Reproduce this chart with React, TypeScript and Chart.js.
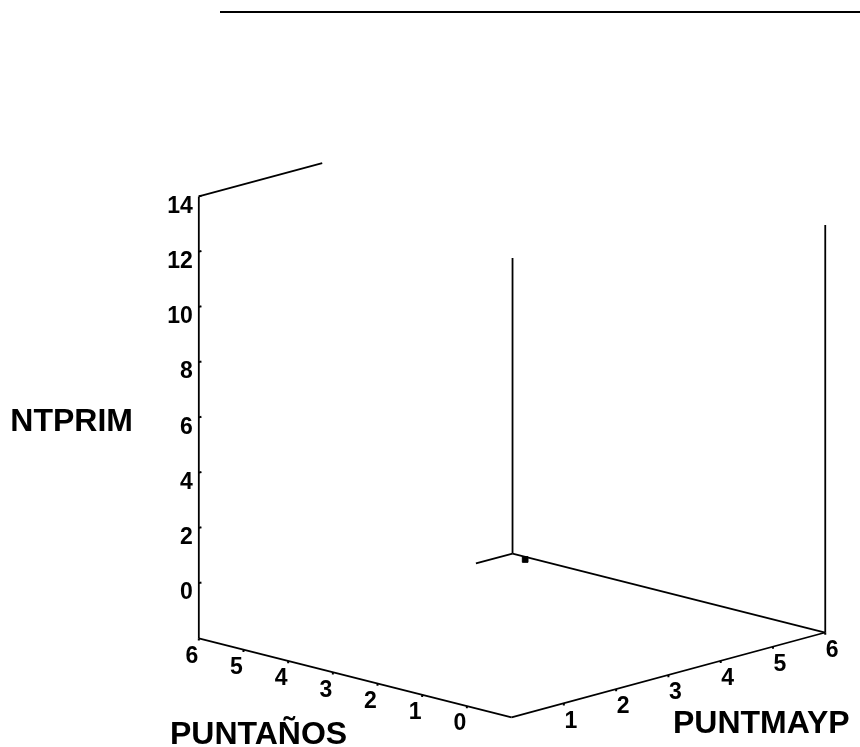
import React, { useEffect, useRef } from "react";
import { Chart, registerables } from "chart.js";

Chart.register(...registerables);

// Axis ranges (data units)
const puntanosRange = [-1, 6];
const puntmaypRange = [0, 6];
const puntprimRange = [-2, 14];

// Tick values
const puntanosTicks = [0, 1, 2, 3, 4, 5, 6];
const puntmaypTicks = [1, 2, 3, 4, 5, 6];
const puntprimTicks = [0, 2, 4, 6, 8, 10, 12, 14];

// Axis titles
const titleX = "PUNTAÑOS";
const titleY = "PUNTMAYP";
const titleZ = "NTPRIM";

// Observed case(s)
const obsPuntanos = [5.6];
const obsPuntmayp = [5.9];
const obsPuntprim = [-2];

// Visible frame edges as [PUNTAÑOS, PUNTMAYP, PUNTPRIM] end points
// (some edges are only partially visible in the source)
const frameEdges: number[][][] = [
  [[6, 0, -2], [6, 0, 14]],
  [[6, 0, 14], [6, 2.36, 14]],
  [[6, 0, -2], [-1, 0, -2]],
  [[-1, 0, -2], [-1, 6, -2]],
  [[6, 6, -2], [-1, 6, -2]],
  [[6, 6, -2], [6, 5.3, -2]],
  [[6, 6, -2], [6, 6, 8.7]],
  [[-1, 6, -2], [-1, 6, 12.75]],
];

// Oblique projection of the 3D box onto the page plane
const ORIGIN = { x: 512.5, y: 722 };
const DIR_A = { x: -45.2, y: -11.43 };
const DIR_M = { x: 52.9, y: -14.33 };
const DIR_Z = { x: 0, y: -28 };

function proj(a: number, m: number, z: number) {
  const da = a - puntanosRange[0];
  const dm = m - puntmaypRange[0];
  const dz = z - puntprimRange[0];
  return {
    x: ORIGIN.x + da * DIR_A.x + dm * DIR_M.x + dz * DIR_Z.x,
    y: ORIGIN.y + da * DIR_A.y + dm * DIR_M.y + dz * DIR_Z.y,
  };
}

const FONT = '"Liberation Sans", Arial, sans-serif';

const labelPlugin = {
  id: "labels3d",
  afterDatasetsDraw(chart: any) {
    const { ctx, scales } = chart;
    const px = (p: { x: number; y: number }) => ({
      x: scales.x.getPixelForValue(p.x),
      y: scales.y.getPixelForValue(p.y),
    });
    ctx.save();
    ctx.fillStyle = "#000";
    ctx.font = `bold 23px ${FONT}`;
    // PUNTPRIM ticks (vertical axis)
    ctx.textAlign = "right";
    ctx.textBaseline = "middle";
    puntprimTicks.forEach((z) => {
      const p = px(proj(puntanosRange[1], puntmaypRange[0], z));
      ctx.fillText(String(z), p.x - 6, p.y + 10);
    });
    // PUNTAÑOS ticks
    ctx.textAlign = "center";
    puntanosTicks.forEach((a) => {
      const p = px(proj(a, puntmaypRange[0], puntprimRange[0]));
      ctx.fillText(String(a), p.x - 7, p.y + 18);
    });
    // PUNTMAYP ticks
    puntmaypTicks.forEach((m) => {
      const p = px(proj(puntanosRange[0], m, puntprimRange[0]));
      ctx.fillText(String(m), p.x + 7, p.y + 18);
    });
    // Axis titles
    ctx.font = `bold 32px ${FONT}`;
    ctx.textBaseline = "alphabetic";
    ctx.textAlign = "left";
    ctx.fillText(titleX, 170, 744);
    ctx.fillText(titleY, 673, 733);
    ctx.textAlign = "right";
    ctx.fillText(titleZ, 133, 431);
    ctx.restore();
  },
};

export default function App() {
  const ref = useRef<HTMLCanvasElement | null>(null);

  useEffect(() => {
    if (!ref.current) return;
    const line = (pts: { x: number; y: number }[], w = 1.8) => ({
      type: "scatter" as const,
      data: pts,
      showLine: true,
      borderColor: "#000",
      borderWidth: w,
      pointRadius: 0,
      fill: false,
    });
    const datasets: any[] = [];
    frameEdges.forEach(([s, e]) => {
      datasets.push(line([proj(s[0], s[1], s[2]), proj(e[0], e[1], e[2])]));
    });
    // tick marks
    puntprimTicks.forEach((z) => {
      datasets.push(
        line([
          proj(puntanosRange[1], puntmaypRange[0], z),
          proj(puntanosRange[1], puntmaypRange[0] + 0.05, z),
        ], 2)
      );
    });
    puntanosTicks.forEach((a) => {
      datasets.push(
        line([
          proj(a, puntmaypRange[0], puntprimRange[0]),
          proj(a, puntmaypRange[0], puntprimRange[0] - 0.08),
        ], 2)
      );
    });
    puntmaypTicks.forEach((m) => {
      datasets.push(
        line([
          proj(puntanosRange[0], m, puntprimRange[0]),
          proj(puntanosRange[0], m, puntprimRange[0] - 0.08),
        ], 2)
      );
    });
    // observed points
    datasets.push({
      type: "scatter",
      data: obsPuntanos.map((a, i) => proj(a, obsPuntmayp[i], obsPuntprim[i])),
      pointStyle: "rect",
      pointRadius: 4,
      backgroundColor: "#000",
      borderColor: "#000",
      borderWidth: 1,
      showLine: false,
    });

    const chart = new Chart(ref.current, {
      type: "scatter",
      data: { datasets },
      options: {
        animation: false,
        responsive: false,
        devicePixelRatio: 1,
        layout: { padding: 0 },
        plugins: { legend: { display: false }, tooltip: { enabled: false } },
        scales: {
          x: { type: "linear", min: 0, max: 860, display: false },
          y: { type: "linear", min: 0, max: 747, reverse: true, display: false },
        },
      },
      plugins: [labelPlugin],
    });
    return () => chart.destroy();
  }, []);

  return (
    <div style={{ position: "absolute", left: 0, top: 0, width: 860, height: 747, background: "#fff" }}>
      <div style={{ position: "absolute", left: 220, top: 11, width: 640, height: 2, background: "#000" }} />
      <canvas ref={ref} width={860} height={747} style={{ position: "absolute", left: 0, top: 0 }} />
    </div>
  );
}
